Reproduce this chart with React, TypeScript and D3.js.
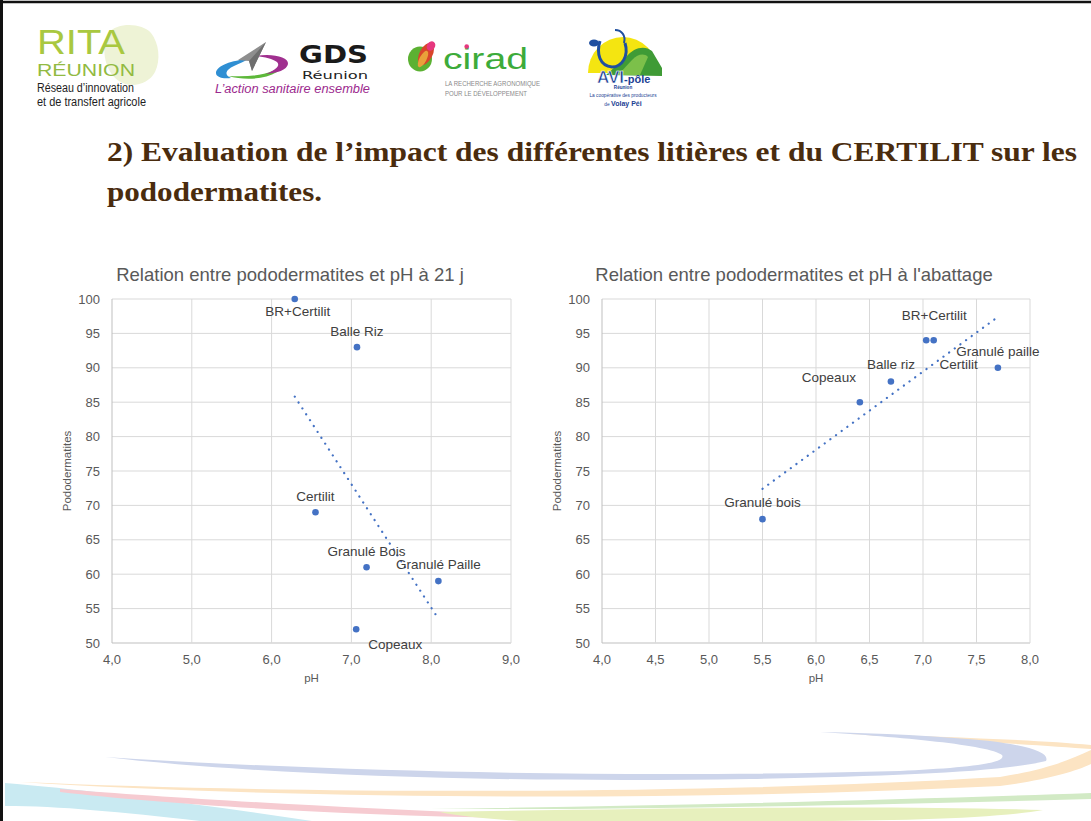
import * as React from "react";
import { scaleLinear, line, mean, sum, formatLocale } from "d3";

// données
const names21 = ["BR+Certilit", "Balle Riz", "Certilit", "Granulé Bois", "Granulé Paille", "Copeaux"];
const ph21 = [6.29, 7.07, 6.55, 7.19, 8.09, 7.06];
const podo21 = [100, 93, 69, 61, 59, 52];

const namesAbat = ["Granulé bois", "Copeaux", "Balle riz", "BR+Certilit", "Certilit", "Granulé paille"];
const phAbat = [5.5, 6.41, 6.7, 7.03, 7.1, 7.7];
const podoAbat = [68, 85, 88, 94, 94, 90];

const yTicks = [50, 55, 60, 65, 70, 75, 80, 85, 90, 95, 100];
const xTicks21 = [4, 5, 6, 7, 8, 9];
const xTicksAbat = [4, 4.5, 5, 5.5, 6, 6.5, 7, 7.5, 8];

// décalage des étiquettes (centre du texte par rapport au point)
const offsets21 = [[3, 12], [0, -16], [0, -16], [0, -16], [0, -17], [39, 15]];
const offsetsAbat = [[0, -17], [-31, -25], [0, -17], [8, -25], [25, 24], [0, -17]];

const BLUE = "#4472C4";
const GREY = "#595959";
const FONT = "'Liberation Sans', Arial, sans-serif";
const fr = formatLocale({ decimal: ",", thousands: " ", grouping: [3], currency: ["", "€"] });
const fmt1 = fr.format(".1f");

const Scatter = (props: {
  left: number; right: number; top: number; bottom: number;
  xTicks: number[]; xs: number[]; ys: number[]; names: string[]; offsets: number[][];
  title: string; titleX: number; yTitleX: number;
}) => {
  const { left, right, top, bottom, xTicks, xs, ys, names, offsets, title, titleX, yTitleX } = props;
  const x = scaleLinear().domain([xTicks[0], xTicks[xTicks.length - 1]]).range([left, right]);
  const y = scaleLinear().domain([50, 100]).range([bottom, top]);

  // droite de régression linéaire (courbe de tendance)
  const mx = mean(xs) as number;
  const my = mean(ys) as number;
  const slope = sum(xs, (d, i) => (d - mx) * (ys[i] - my)) / sum(xs, (d) => (d - mx) * (d - mx));
  const x0 = Math.min(...xs);
  const x1 = Math.max(...xs);
  const trend = line<number>().x((d) => x(d)).y((d) => y(my + slope * (d - mx)))([x0, x1]);

  return (
    <g fontFamily={FONT}>
      <text x={titleX} y={281} textAnchor="middle" fontSize={18.5} fill={GREY}>{title}</text>
      {yTicks.map((t) => (
        <g key={"y" + t}>
          <line x1={left} x2={right} y1={y(t)} y2={y(t)} stroke={t === 50 ? "#bfbfbf" : "#d9d9d9"} strokeWidth={1} />
          <text x={left - 12} y={y(t)} dy="0.35em" textAnchor="end" fontSize={13} fill={GREY}>{t}</text>
        </g>
      ))}
      {xTicks.map((t, i) => (
        <g key={"x" + t}>
          <line x1={x(t)} x2={x(t)} y1={top} y2={bottom} stroke={i === 0 ? "#bfbfbf" : "#d9d9d9"} strokeWidth={1} />
          <text x={x(t)} y={bottom + 16} dy="0.35em" textAnchor="middle" fontSize={13} fill={GREY}>{fmt1(t)}</text>
        </g>
      ))}
      <text x={(left + right) / 2} y={bottom + 35} dy="0.35em" textAnchor="middle" fontSize={11.5} fill={GREY}>pH</text>
      <text transform={`translate(${yTitleX},${(top + bottom) / 2}) rotate(-90)`} dy="0.35em" textAnchor="middle" fontSize={11.5} fill={GREY}>Pododermatites</text>
      <path d={trend ?? ""} fill="none" stroke={BLUE} strokeWidth={2.2} strokeLinecap="round" strokeDasharray="0.1 6.9" />
      {xs.map((d, i) => (
        <circle key={"p" + i} cx={x(d)} cy={y(ys[i])} r={3.3} fill={BLUE} />
      ))}
      {xs.map((d, i) => (
        <text key={"l" + i} x={x(d) + offsets[i][0]} y={y(ys[i]) + offsets[i][1]} dy="0.35em" textAnchor="middle" fontSize={13.5} fill="#404040">{names[i]}</text>
      ))}
    </g>
  );
};

const Logos = () => (
  <g>
    {/* RITA Réunion */}
    <path d="M108,33 C118,22 142,23 151,33 C159,43 161,60 155,72 C149,84 131,89 119,81 C106,73 100,50 108,33 Z" fill="#eef3d6" />
    <text x={37} y={53.5} fontFamily={FONT} fontSize={35} fill="#a9c840" textLength={88} lengthAdjust="spacingAndGlyphs">RITA</text>
    <text x={37} y={75.5} fontFamily={FONT} fontSize={17} fill="#92ba42" textLength={98} lengthAdjust="spacingAndGlyphs">RÉUNION</text>
    <text x={37} y={91.5} fontFamily={FONT} fontSize={12} fill="#1e1e1e" textLength={97} lengthAdjust="spacingAndGlyphs">Réseau d’innovation</text>
    <text x={37} y={106} fontFamily={FONT} fontSize={12} fill="#1e1e1e" textLength={109} lengthAdjust="spacingAndGlyphs">et de transfert agricole</text>

    {/* GDS Réunion */}
    <path d="M249,59 C232,60 216,66 216,73 C216,77 222,79 231,78 C224,75 225,70 234,66 C240,63 245,61 249,59 Z" fill="#2f8fd3" />
    <path d="M228,76 C246,81 265,79 277,72 L273,71 C261,76 245,77 228,76 Z" fill="#5db83a" />
    <path d="M256,56 C272,53 289,57 288,64 C287,70 277,73 266,74 C275,70 281,66 277,62 C273,59 265,57 256,56 Z" fill="#a0308f" />
    <path d="M266,42 L238,60 L249,61 L252,71 Z" fill="#8e8e8e" />
    <path d="M266,42 L249,61 L252,71 Z" fill="#6e6e6e" />
    <text x={299} y={63} fontFamily="'DejaVu Sans', sans-serif" fontWeight="bold" fontSize={24} fill="#1a1a1a" textLength={69} lengthAdjust="spacingAndGlyphs">GDS</text>
    <text x={302} y={79} fontFamily="'DejaVu Sans', sans-serif" fontSize={11} fill="#222" textLength={66} lengthAdjust="spacingAndGlyphs">Réunion</text>
    <text x={215} y={92.5} fontFamily={FONT} fontStyle="italic" fontSize={12.5} fill="#9c2a8e" textLength={155} lengthAdjust="spacingAndGlyphs">L’action sanitaire ensemble</text>

    {/* cirad */}
    <ellipse cx={420} cy={59} rx={12} ry={12.5} fill="#5bb132" />
    <ellipse cx={426} cy={54} rx={6.5} ry={12} transform="rotate(28 426 54)" fill="#d9452b" />
    <ellipse cx={423} cy={59} rx={3.5} ry={9} transform="rotate(28 423 59)" fill="#e9a13a" />
    <ellipse cx={431} cy={46} rx={4} ry={5} transform="rotate(35 431 46)" fill="#e6377e" />
    <text x={443} y={68.5} fontFamily={FONT} fontSize={30} fill="#3dab3a" textLength={85} lengthAdjust="spacingAndGlyphs">cirad</text>
    <circle cx={466.7} cy={46.5} r={2.3} fill="#e6377e" />
    <text x={445} y={86} fontFamily={FONT} fontSize={6.5} fill="#8a8a8a" textLength={95} lengthAdjust="spacingAndGlyphs">LA RECHERCHE AGRONOMIQUE</text>
    <text x={445} y={96} fontFamily={FONT} fontSize={6.5} fill="#8a8a8a" textLength={82} lengthAdjust="spacingAndGlyphs">POUR LE DÉVELOPPEMENT</text>

    {/* Avi-pôle */}
    <path d="M588,73 A35,36 0 1,1 658,73 Z" fill="#f4e511" />
    <path d="M606,75 L626,57 C634,47 645,45 652,51 L662,68 L662,76 Z" fill="#3f9b36" />
    <path d="M618,75 L632,60 C638,54 644,53 648,57 L640,75 Z" fill="#7cc04a" />
    <path d="M600,41 C596,54 600,66 612,67 C622,67 629,56 625,43" fill="none" stroke="#1f4fa0" strokeWidth={3} />
    <ellipse cx={594} cy={43} rx={5} ry={3.5} fill="#1f4fa0" />
    <path d="M615,30 C622,30 626,36 624,43" fill="none" stroke="#1f4fa0" strokeWidth={2} />
    <text x={597} y={83} fontFamily={FONT} fontWeight="bold" fill="#1d3f94" stroke="#ffffff" strokeWidth={0.6}>
      <tspan fontSize={17}>AVI</tspan><tspan fontSize={11} strokeWidth={0}>-pôle</tspan>
    </text>
    <text x={623} y={89} textAnchor="middle" fontFamily={FONT} fontWeight="bold" fontSize={4.6} fill="#1d3f94">Réunion</text>
    <text x={623} y={97} textAnchor="middle" fontFamily={FONT} fontSize={4.8} fill="#1d3f94">La coopérative des producteurs</text>
    <text x={623} y={106} textAnchor="middle" fontFamily={FONT} fill="#1d3f94">
      <tspan fontSize={4.8}>de </tspan><tspan fontSize={7} fontWeight="bold">Volay Péi</tspan>
    </text>
  </g>
);

const Swoosh = () => (
  <g>
    <path d="M5,783 C80,789 200,804 312,821 L200,821 C120,812 60,806 5,806 Z" fill="#c9eaf2" />
    <path d="M60,789 C200,800 420,813 660,819 C420,820 200,808 60,792 Z" fill="#f6cbd1" />
    <path d="M20,782 C300,800 700,801 1000,786 C1040,781 1075,772 1091,764 L1091,750 C1070,760 1045,770 1000,777 C700,795 300,794 20,782 Z" fill="#fce4c3" />
    <path d="M850,734 C950,737 1040,740 1091,745 L1091,749 C1040,745 950,740 850,734 Z" fill="#fce4c3" />
    <path d="M105,757 C260,775 500,783 750,779 C900,776 1000,772 1046,761 C1050,753 1030,746 990,741 C940,736 880,733 820,732 C900,737 990,745 1002,755 C1008,764 960,768 900,771 C650,778 350,773 105,757 Z" fill="#cdd5eb" />
    <path d="M430,809 C650,806 900,800 1091,793 L1091,799 C900,804 650,810 430,809 Z" fill="#d2eac5" />
    <path d="M440,812 C650,808 900,805 1043,810 C1000,818 900,821 800,821 L520,821 C480,818 450,815 440,812 Z" fill="#e7f0bd" />
  </g>
);

export default function App() {
  return (
    <svg width={1091} height={821} style={{ position: "absolute", left: 0, top: 0, display: "block", background: "#fff" }}>
      <rect x={0} y={0} width={1091} height={821} fill="#fff" />
      <Swoosh />
      <line x1={0} x2={1091} y1={2} y2={2} stroke="#111" strokeWidth={2.5} />
      <line x1={1.5} x2={1.5} y1={0} y2={821} stroke="#111" strokeWidth={3} />
      <Logos />
      <g fontFamily="'Liberation Serif', 'Times New Roman', serif" fontWeight="bold" fontSize={27} fill="#4a2c0e">
        <text x={107} y={161} textLength={970} lengthAdjust="spacingAndGlyphs">2) Evaluation de l’impact des différentes litières et du CERTILIT sur les</text>
        <text x={107} y={201} textLength={215} lengthAdjust="spacingAndGlyphs">pododermatites.</text>
      </g>
      <Scatter left={112} right={511} top={299} bottom={643} xTicks={xTicks21} xs={ph21} ys={podo21} names={names21} offsets={offsets21}
        title="Relation entre pododermatites et pH à 21 j" titleX={290} yTitleX={67} />
      <Scatter left={602} right={1030} top={299} bottom={643} xTicks={xTicksAbat} xs={phAbat} ys={podoAbat} names={namesAbat} offsets={offsetsAbat}
        title="Relation entre pododermatites et pH à l'abattage" titleX={794} yTitleX={557} />
    </svg>
  );
}
